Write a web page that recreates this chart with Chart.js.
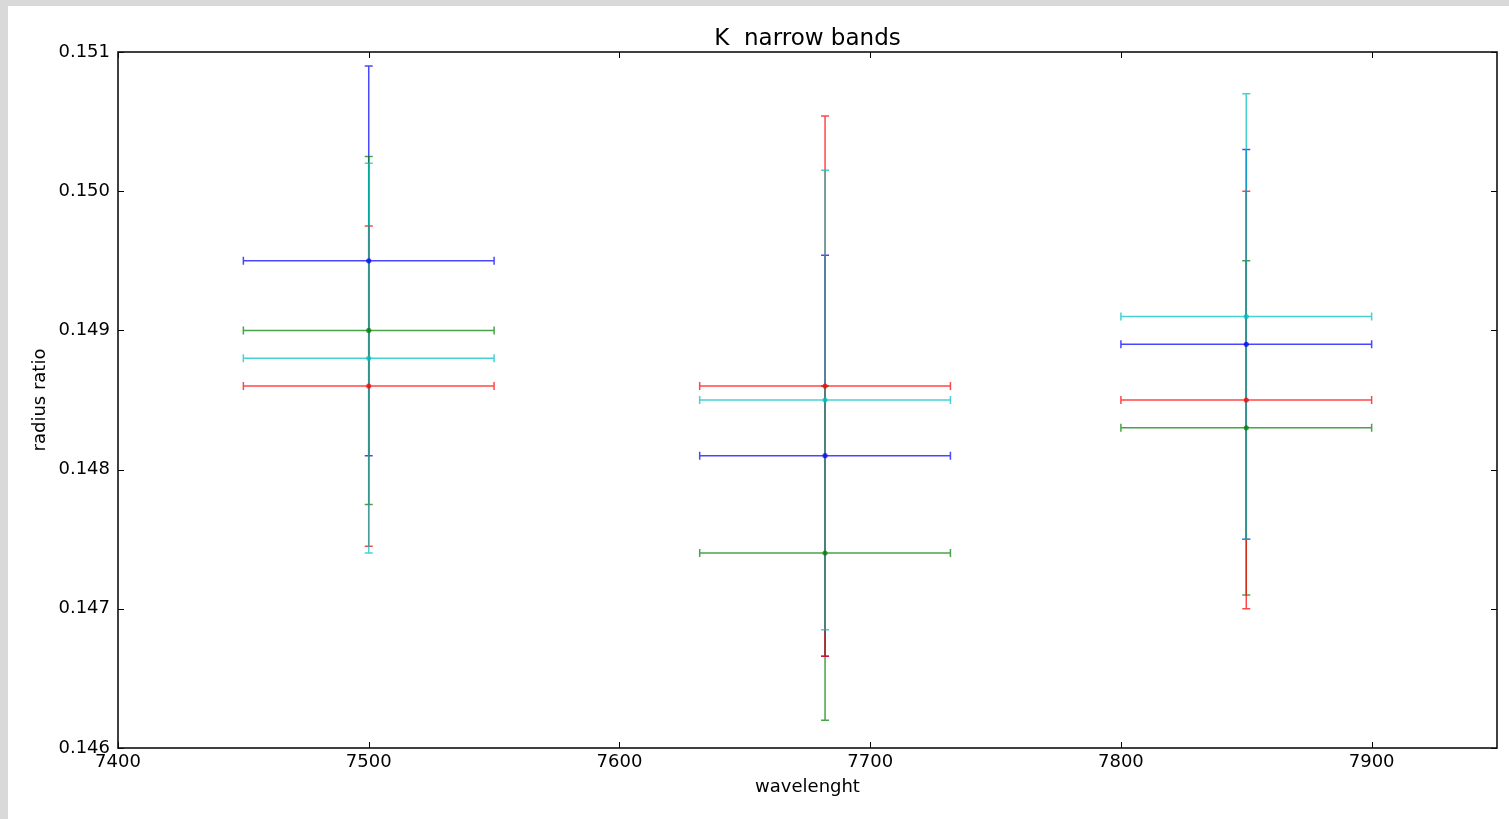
<!DOCTYPE html>
<html>
<head>
<meta charset="utf-8">
<script src="https://cdn.jsdelivr.net/npm/chart.js@4.4.1/dist/chart.umd.min.js"></script>
<style>
  html, body { margin: 0; padding: 0; background: #d9d9d9; width: 1509px; height: 819px; overflow: hidden; }
  #wrap { position: absolute; left: 8px; top: 6px; width: 1501px; height: 813px; background: #ffffff; }
  canvas { display: block; }
</style>
</head>
<body>
<div id="wrap"><canvas id="c" width="1501" height="813"></canvas></div>
<script>
// ---- data ----
const chartTitle = 'K  narrow bands';
const xCenters = [7500, 7682, 7850];
const xErr = [50, 50, 50];
const blueY = [0.1495, 0.1481, 0.1489];
const blueErr = [0.0014, 0.00144, 0.0014];
const greenY = [0.1490, 0.1474, 0.1483];
const greenErr = [0.00125, 0.0012, 0.0012];
const redY = [0.1486, 0.1486, 0.1485];
const redErr = [0.00115, 0.00194, 0.0015];
const cyanY = [0.1488, 0.1485, 0.1491];
const cyanErr = [0.0014, 0.00165, 0.0016];
const xTicks = [7400, 7500, 7600, 7700, 7800, 7900];
const yTicks = [0.146, 0.147, 0.148, 0.149, 0.150, 0.151];

const seriesList = [
  { name: 'blue', y: blueY, err: blueErr, color: 'rgba(0,0,255,0.72)' },
  { name: 'green', y: greenY, err: greenErr, color: 'rgba(0,128,0,0.72)' },
  { name: 'red', y: redY, err: redErr, color: 'rgba(255,0,0,0.72)' },
  { name: 'cyan', y: cyanY, err: cyanErr, color: 'rgba(0,191,191,0.72)' }
];

const FONT = 'DejaVu Sans';

const errorBarPlugin = {
  id: 'errorBars',
  beforeDatasetsDraw(chart) {
    const ctx = chart.ctx;
    const xs = chart.scales.x, ys = chart.scales.y;
    const cap = 4;
    ctx.save();
    ctx.lineWidth = 1.5;
    seriesList.forEach(s => {
      ctx.strokeStyle = s.color;
      for (let i = 0; i < xCenters.length; i++) {
        const px = xs.getPixelForValue(xCenters[i]);
        const py = ys.getPixelForValue(s.y[i]);
        const xl = xs.getPixelForValue(xCenters[i] - xErr[i]);
        const xr = xs.getPixelForValue(xCenters[i] + xErr[i]);
        const yt = ys.getPixelForValue(s.y[i] + s.err[i]);
        const yb = ys.getPixelForValue(s.y[i] - s.err[i]);
        ctx.beginPath();
        ctx.moveTo(xl, py); ctx.lineTo(xr, py);
        ctx.moveTo(xl, py - cap); ctx.lineTo(xl, py + cap);
        ctx.moveTo(xr, py - cap); ctx.lineTo(xr, py + cap);
        ctx.moveTo(px, yt); ctx.lineTo(px, yb);
        ctx.moveTo(px - cap, yt); ctx.lineTo(px + cap, yt);
        ctx.moveTo(px - cap, yb); ctx.lineTo(px + cap, yb);
        ctx.stroke();
      }
    });
    ctx.restore();
  },
  afterDraw(chart) {
    const ctx = chart.ctx;
    const a = chart.chartArea;
    const xs = chart.scales.x, ys = chart.scales.y;
    const tl = 6;
    ctx.save();
    ctx.strokeStyle = '#000000';
    ctx.lineWidth = 1;
    ctx.beginPath();
    xTicks.forEach(v => {
      const p = Math.round(xs.getPixelForValue(v)) + 0.5;
      ctx.moveTo(p, a.bottom); ctx.lineTo(p, a.bottom - tl);
      ctx.moveTo(p, a.top); ctx.lineTo(p, a.top + tl);
    });
    yTicks.forEach(v => {
      const p = Math.round(ys.getPixelForValue(v)) + 0.5;
      ctx.moveTo(a.left, p); ctx.lineTo(a.left + tl, p);
      ctx.moveTo(a.right, p); ctx.lineTo(a.right - tl, p);
    });
    ctx.stroke();
    ctx.lineWidth = 1.6;
    ctx.strokeStyle = '#111111';
    ctx.strokeRect(a.left, a.top, a.right - a.left, a.bottom - a.top);
    // title centred over the plot area
    ctx.fillStyle = '#000000';
    ctx.font = '23px "' + FONT + '"';
    ctx.textAlign = 'center';
    ctx.textBaseline = 'alphabetic';
    ctx.fillText(chartTitle, (a.left + a.right) / 2, a.top - 7);
    ctx.restore();
  }
};

const datasets = seriesList.map(s => ({
  label: s.name,
  data: xCenters.map((x, i) => ({ x: x, y: s.y[i] })),
  backgroundColor: s.color,
  borderColor: s.color,
  pointRadius: 2.6,
  pointBorderWidth: 0,
  showLine: false
}));

new Chart(document.getElementById('c'), {
  type: 'scatter',
  data: { datasets },
  plugins: [errorBarPlugin],
  options: {
    responsive: false,
    animation: false,
    devicePixelRatio: 1,
    layout: { padding: { left: 0, right: 12, top: 46, bottom: 0 } },
    plugins: {
      legend: { display: false },
      tooltip: { enabled: false },
      title: { display: false }
    },
    scales: {
      x: {
        type: 'linear',
        min: 7400, max: 7950,
        afterBuildTicks: sc => { sc.ticks = xTicks.map(v => ({ value: v })); },
        afterFit: sc => { sc.height = 71; },
        grid: { display: false, drawTicks: false },
        border: { display: false },
        ticks: { color: '#000000', font: { family: FONT, size: 18 }, padding: 4, maxRotation: 0, autoSkip: false, callback: v => String(Math.round(v)) },
        title: { display: true, text: 'wavelenght', color: '#000000', font: { family: FONT, size: 18, lineHeight: 1.2 }, padding: { top: 0, bottom: 21 } }
      },
      y: {
        type: 'linear',
        min: 0.146, max: 0.151,
        afterBuildTicks: sc => { sc.ticks = yTicks.map(v => ({ value: v })); },
        afterFit: sc => { sc.width = 110; },
        grid: { display: false, drawTicks: false },
        border: { display: false },
        ticks: { color: '#000000', font: { family: FONT, size: 18 }, padding: 8, autoSkip: false, callback: v => Number(v).toFixed(3) },
        title: { display: true, text: 'radius ratio', color: '#000000', font: { family: FONT, size: 18, lineHeight: 1.2 }, padding: { top: 22, bottom: 0 } }
      }
    }
  }
});
</script>
</body>
</html>
